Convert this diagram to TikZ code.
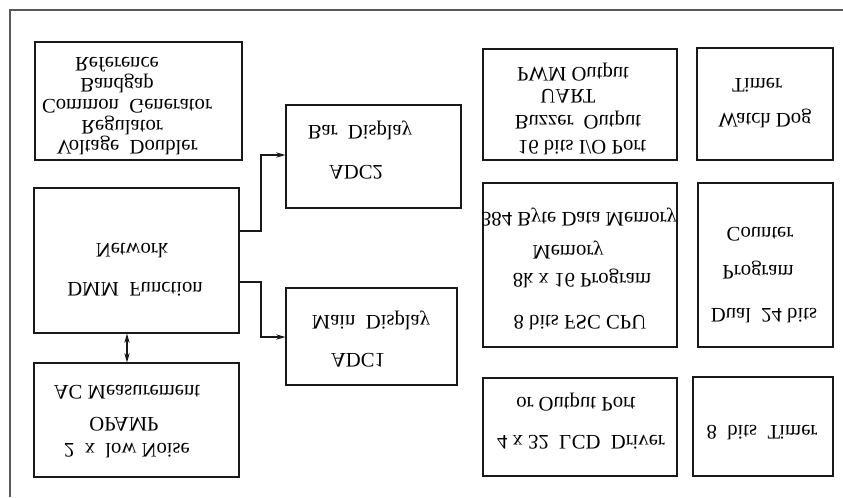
\documentclass[tikz,border=0pt]{standalone}
\usepackage{fontspec}
\setmainfont{Liberation Serif}
\usetikzlibrary{fit,arrows.meta}
\newcommand{\flipt}[1]{\scalebox{1}[-1]{\strut #1}}
\begin{document}
\begin{tikzpicture}[x=0.75pt,y=-0.75pt,
  box/.style={draw=black!90,line width=0.8pt,inner sep=0pt},
  txt/.style={inner sep=0pt,font=\fontsize{15.5}{18}\selectfont},
  link/.style={draw=black!90,line width=0.8pt},
  arr/.style={link,-{Stealth[length=7pt,width=4pt]}},
  biarr/.style={link,{Stealth[length=7pt,width=4pt]}-{Stealth[length=7pt,width=4pt]}}]
\useasboundingbox (0,0) rectangle (843,497);
% open frame
\coordinate (f0) at (10,10);
\coordinate (f1) at (843,10);
\coordinate (f2) at (10,497);
\draw[draw=black!65,line width=1pt] (f1) -- (f0) -- (f2);
% boxes
\node[box,fit={(35,42) (242,160)}] (a) {};
\node[box,fit={(34,188) (239,333)}] (b) {};
\node[box,fit={(34,363) (239,477)}] (c) {};
\node[box,fit={(286,105) (461,208)}] (d) {};
\node[box,fit={(286,288) (457,385)}] (e) {};
\node[box,fit={(483,49) (677,160)}] (f) {};
\node[box,fit={(697,48) (833,160)}] (g) {};
\node[box,fit={(483,183) (677,347)}] (h) {};
\node[box,fit={(698,183) (833,347)}] (i) {};
\node[box,fit={(483,378) (677,476)}] (j) {};
\node[box,fit={(693,377) (833,476)}] (k) {};
% texts
\node[txt] (a1) at (117,62) {\flipt{Reference}};
\node[txt] (a2) at (117,83) {\flipt{Bandgap}};
\node[txt] (a3) at (127,104) {\flipt{Common\ \ Generator}};
\node[txt] (a4) at (122,125) {\flipt{Regulator}};
\node[txt] (a5) at (127,145) {\flipt{Voltage\ \ Doubler}};
\node[txt] (b1) at (132,248) {\flipt{Network}};
\node[txt] (b2) at (135,287) {\flipt{DMM\ \ Function}};
\node[txt] (c1) at (127,390) {\flipt{AC Measurement}};
\node[txt] (c2) at (124,422) {\flipt{OPAMP}};
\node[txt] (c3) at (127,448) {\flipt{2\ \ x\ \ low Noise}};
\node[txt] (d1) at (360,130) {\flipt{Bar\ \ Display}};
\node[txt] (d2) at (356,170) {\flipt{ADC2}};
\node[txt] (e1) at (371,320) {\flipt{Main\ \ Display}};
\node[txt] (e2) at (358,358) {\flipt{ADC1}};
\node[txt] (f1t) at (573,72) {\flipt{PWM Output}};
\node[txt] (f2t) at (568,94) {\flipt{UART}};
\node[txt] (f3t) at (578,120) {\flipt{Buzzer\ \ Output}};
\node[txt] (f4t) at (582,145) {\flipt{16 bits I/O Port}};
\node[txt] (g1) at (757,83) {\flipt{Timer}};
\node[txt] (g2) at (765,118) {\flipt{Watch Dog}};
\node[txt] (h1) at (579,217) {\flipt{384 Byte Data Memory}};
\node[txt] (h2) at (568,250) {\flipt{Memory}};
\node[txt] (h3) at (582,278) {\flipt{8k x 16 Program}};
\node[txt] (h4) at (580,320) {\flipt{8 bits FSC CPU}};
\node[txt] (i1) at (760,232) {\flipt{Counter}};
\node[txt] (i2) at (758,270) {\flipt{Program}};
\node[txt] (i3) at (764,313) {\flipt{Dual\ \ 24 bits}};
\node[txt] (j1) at (576,402) {\flipt{or Output Port}};
\node[txt] (j2) at (581,440) {\flipt{4 x 32\ \ LCD\ \ Driver}};
\node[txt] (k1) at (762,430) {\flipt{8\ \ bits\ \ Timer}};
% connectors
\coordinate (p1) at (261,231);
\coordinate (p2) at (261,155);
\coordinate (p3) at (261,282);
\coordinate (p4) at (261,337);
\coordinate (p5) at (127,0);
\draw[arr] (b.east |- p1) -- (p1) -- (p2) -- (d.west |- p2);
\draw[arr] (b.east |- p3) -- (p3) -- (p4) -- (e.west |- p4);
\draw[biarr] (b.south -| p5) -- (c.north -| p5);
\end{tikzpicture}
\end{document}
